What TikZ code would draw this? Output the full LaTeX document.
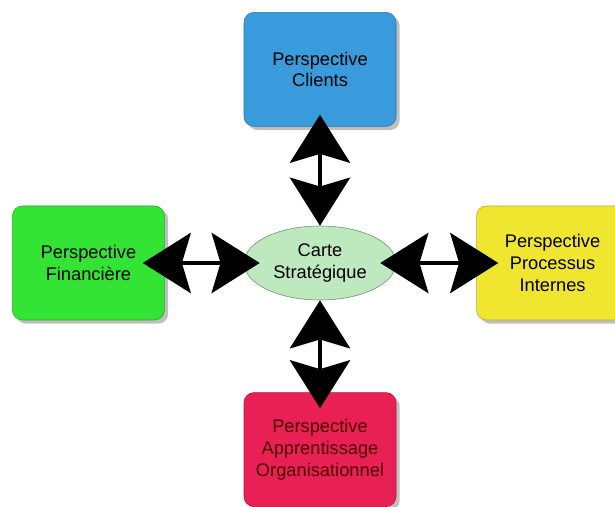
\documentclass[tikz,border=0pt]{standalone}
\usepackage{fontspec}
\setmainfont{Liberation Sans}
\usetikzlibrary{positioning,shapes.geometric,arrows.meta,shadows}

\definecolor{bleuclient}{RGB}{58,155,220}
\definecolor{vertfin}{RGB}{52,228,52}
\definecolor{jauneproc}{RGB}{240,230,48}
\definecolor{rougeapp}{RGB}{232,32,84}
\definecolor{vertcarte}{RGB}{190,232,190}

\begin{document}
\begin{tikzpicture}[font=\fontsize{13}{15.6}\selectfont,
    persp/.style = {draw=#1!75!black, fill=#1, rounded corners=0.25cm, minimum width=3.8cm,
                    minimum height=2.85cm, align=center, drop shadow={opacity=0.5}},
    biarrow/.style = {{Stealth[length=1.2cm,width=1.5cm,inset=0.22cm]}-{Stealth[length=1.2cm,width=1.5cm,inset=0.22cm]},
                      line width=0.12cm}]
    \useasboundingbox (0,0) rectangle (15.375,-12.675);

    \node[ellipse, draw=vertcarte!60!black, fill=vertcarte, minimum width=3.8cm, minimum height=1.85cm,
          align=center] (carte) at (8.0,-6.575) {Carte\\Stratégique};
    \node[persp=bleuclient] (clients) [above=2.475cm of carte] {Perspective\\Clients};
    \node[persp=vertfin] (financiere) [left=1.975cm of carte] {Perspective\\Financière};
    \node[persp=jauneproc] (processus) [right=2.0cm of carte] {Perspective\\Processus\\Internes};
    \node[persp=rougeapp, text=black!70!red] (apprentissage) [below=2.3cm of carte]
        {Perspective\\Apprentissage\\Organisationnel};

    \draw[biarrow, shorten <=-0.3cm] (clients.south) -- (carte.north);
    \draw[biarrow, shorten <=-0.55cm, shorten >=-0.4cm] (financiere.east) -- (carte.west);
    \draw[biarrow, shorten <=-0.4cm, shorten >=-0.55cm] (carte.east) -- (processus.west);
    \draw[biarrow, shorten >=-0.4cm] (carte.south) -- (apprentissage.north);

\end{tikzpicture}
\end{document}
